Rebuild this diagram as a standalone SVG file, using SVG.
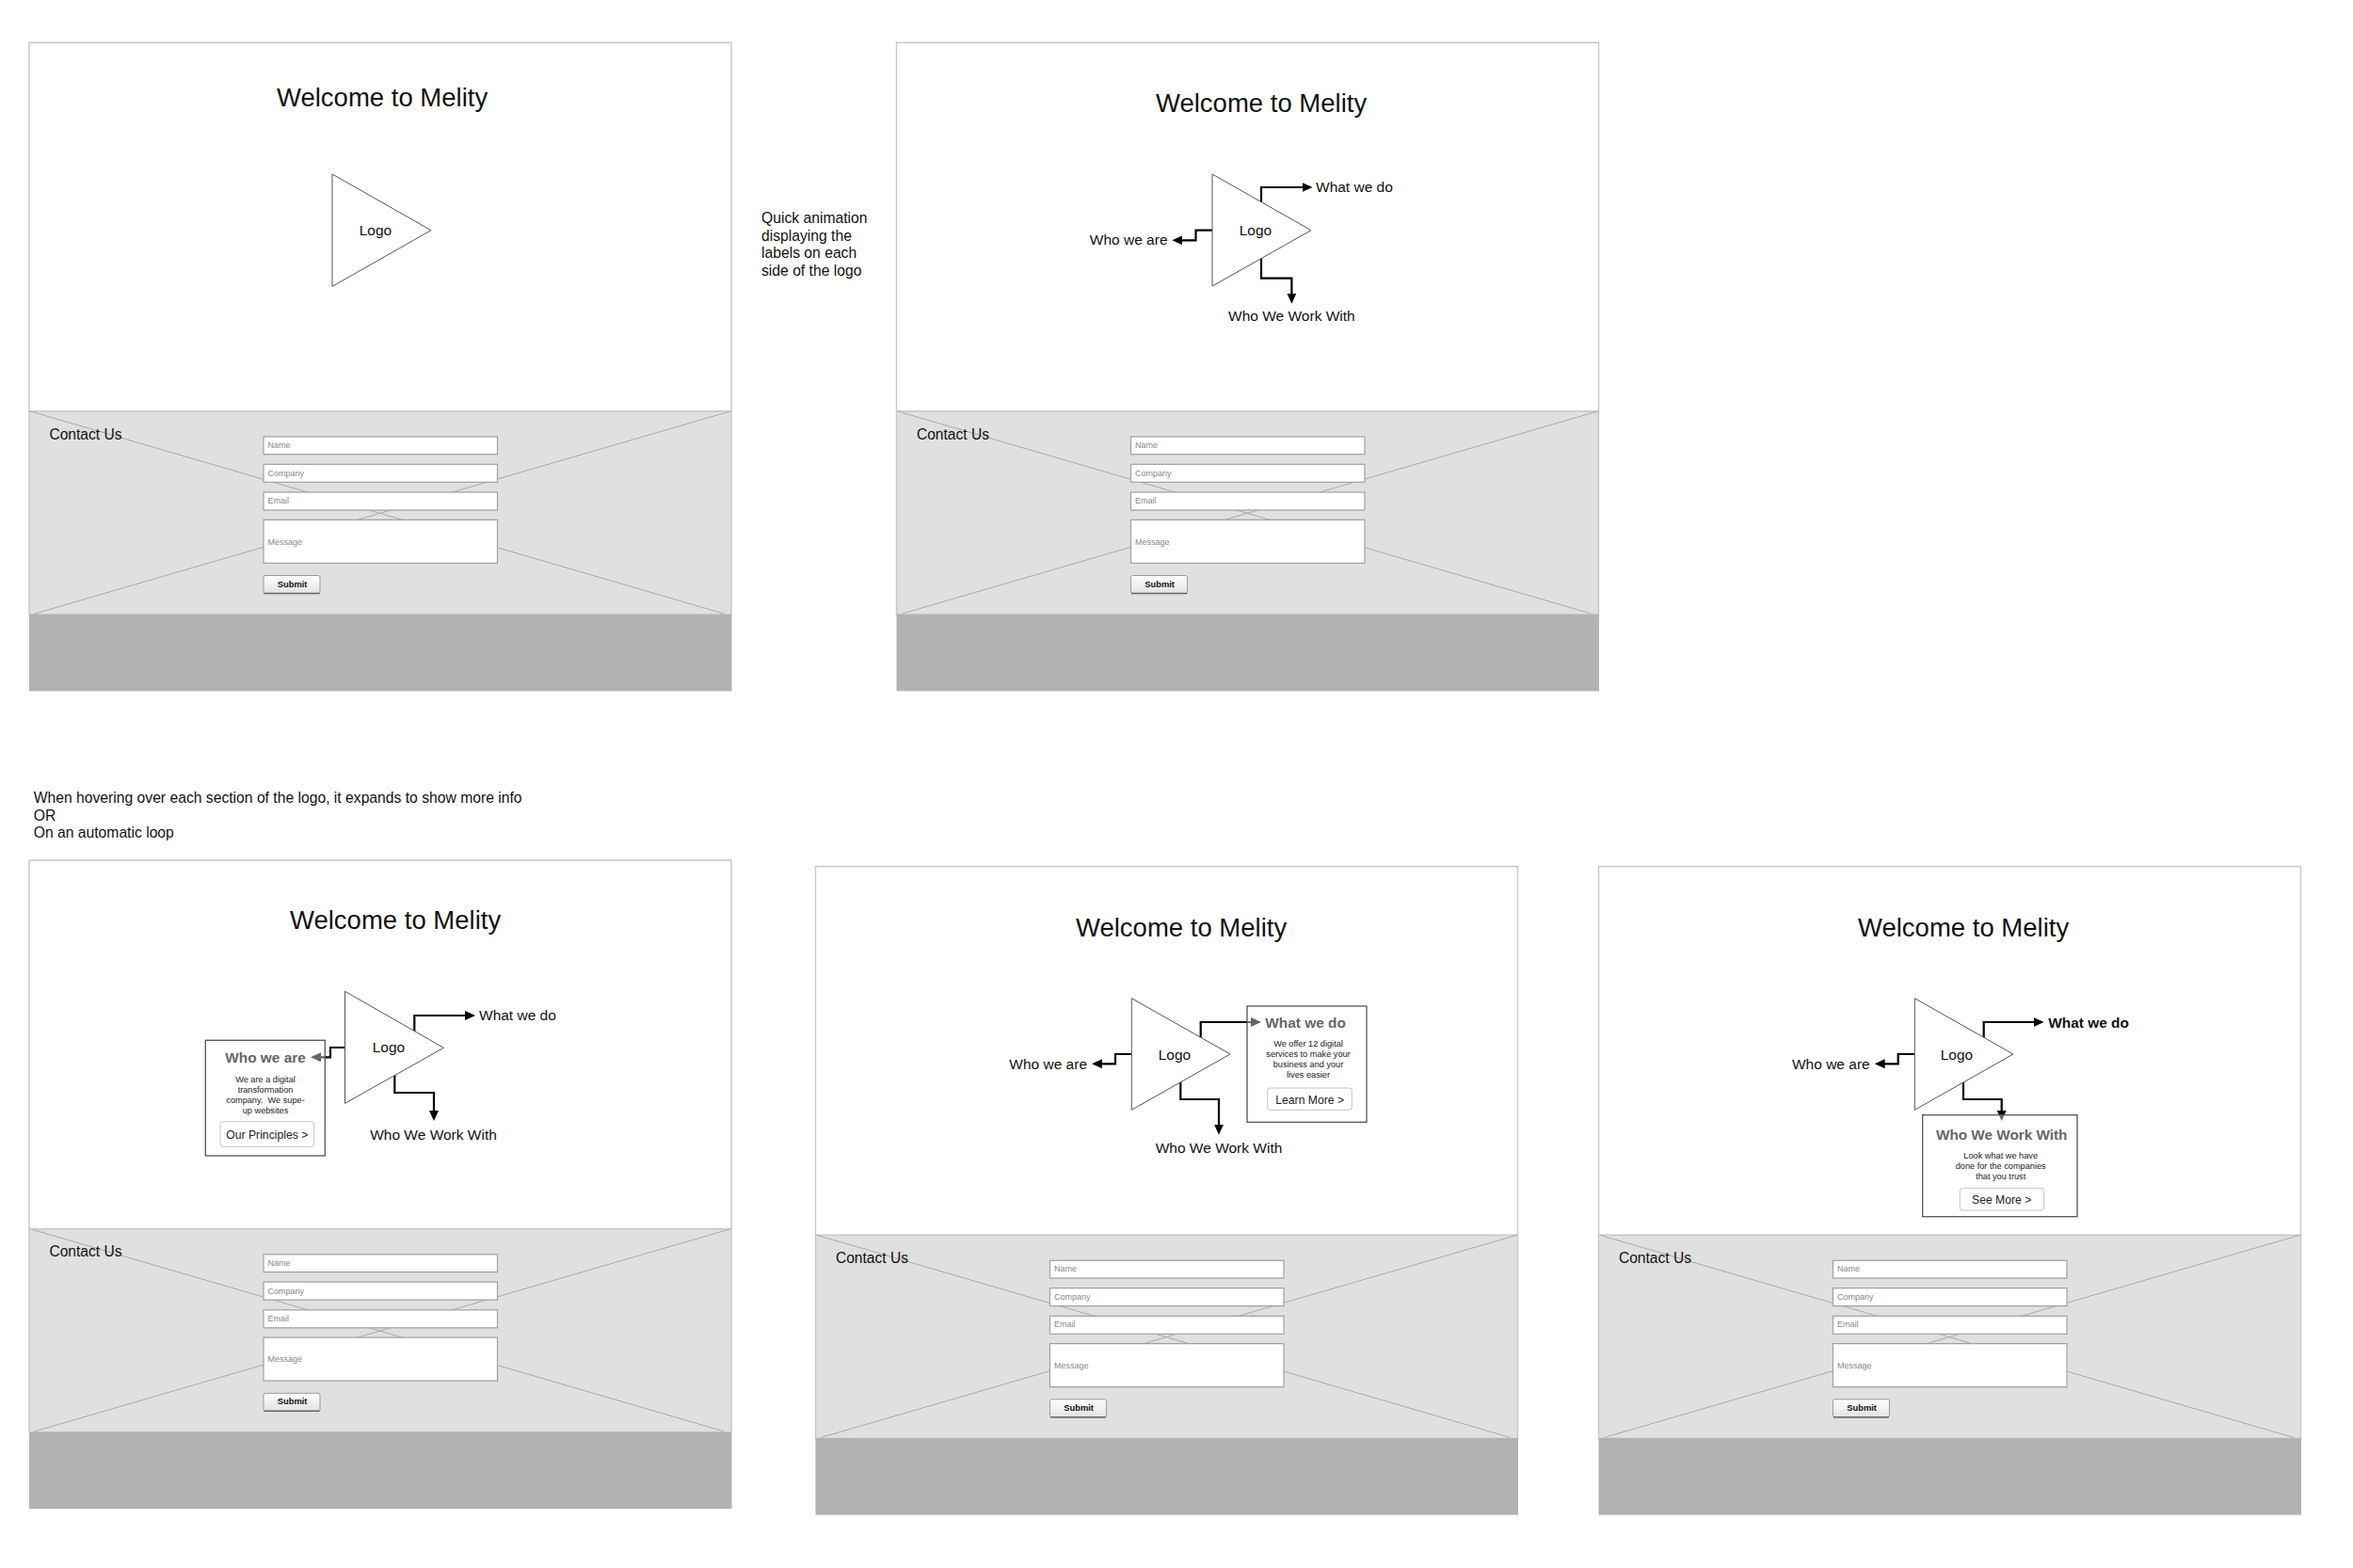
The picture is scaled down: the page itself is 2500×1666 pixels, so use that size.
<svg xmlns="http://www.w3.org/2000/svg" width="2500" height="1666" viewBox="0 0 2500 1666">
<style>
text{font-family:"Liberation Sans",Arial,sans-serif;fill:#111}
.page{fill:#fff;stroke:#c9c9c9;stroke-width:1.5}
.band{fill:#e0e0e0;stroke:#c9c9c9;stroke-width:1.5}
.foot{fill:#b2b2b2}
.x{stroke:#aaa;stroke-width:1;fill:none}
.field{fill:#fff;stroke:#a0a0a0;stroke-width:1.2}
.ph{font-size:9px;fill:#888}
.sub{fill:url(#btn);stroke:#999;stroke-width:1}
.subl{stroke:#666;stroke-width:1.4;fill:none}
.subt{font-size:9.4px;font-weight:bold;text-anchor:middle}
.title{font-size:27.5px}
.contact{font-size:15.6px}
.lbl{font-size:15.5px}
.mid{text-anchor:middle}
.end{text-anchor:end}
.note{font-size:15.7px}
.tri{fill:#fff;stroke:#555;stroke-width:1}
.conn{fill:none;stroke:#000;stroke-width:2.2;marker-end:url(#head)}
.box{fill:#fff;fill-opacity:.4;stroke:#555;stroke-width:1.3}
.bh{font-size:15.4px;font-weight:bold;fill:#666}
.bh2{font-size:15.4px;font-weight:bold;fill:#111}
.body{font-size:9.2px;text-anchor:middle;fill:#222}
.cta{fill:#fff;stroke:#c4c4c4;stroke-width:1}
.ctat{font-size:12.2px;text-anchor:middle;fill:#222}
</style>
<defs>
<linearGradient id="btn" x1="0" y1="0" x2="0" y2="1"><stop offset="0" stop-color="#fff"/><stop offset="1" stop-color="#e2e2e2"/></linearGradient>
<marker id="head" markerUnits="userSpaceOnUse" markerWidth="12" markerHeight="11" refX="7" refY="5" orient="auto"><path d="M0 0L11 5L0 10Z" fill="#000"/></marker>
</defs>

<g id="frame-1">
<rect class="page" x="31" y="45.3" width="746" height="392"/>
<rect class="band" x="31" y="437" width="746" height="216"/>
<path class="x" d="M32.4 437L769 652M776 437L37 652"/>
<rect class="foot" x="31" y="652.7" width="746.5" height="81.6"/>
<text class="contact" x="52.4" y="466.7">Contact Us</text>
<rect class="field" x="280" y="464" width="248.5" height="18.7"/><text class="ph" x="284.5" y="476">Name</text>
<rect class="field" x="280" y="493.3" width="248.5" height="19"/><text class="ph" x="284.5" y="506">Company</text>
<rect class="field" x="280" y="523" width="248.5" height="19"/><text class="ph" x="284.5" y="535">Email</text>
<rect class="field" x="280" y="552.3" width="248.5" height="46"/><text class="ph" x="284.5" y="578.7">Message</text>
<rect class="sub" x="280" y="611.5" width="60" height="19" rx="2"/><path class="subl" d="M280.5 630.5H339.5"/><text class="subt" x="310.6" y="623.7">Submit</text>
</g>

<g id="frame-2" transform="translate(921.5 0)">
<rect class="page" x="31" y="45.3" width="746" height="392"/>
<rect class="band" x="31" y="437" width="746" height="216"/>
<path class="x" d="M32.4 437L769 652M776 437L37 652"/>
<rect class="foot" x="31" y="652.7" width="746.5" height="81.6"/>
<text class="contact" x="52.4" y="466.7">Contact Us</text>
<rect class="field" x="280" y="464" width="248.5" height="18.7"/><text class="ph" x="284.5" y="476">Name</text>
<rect class="field" x="280" y="493.3" width="248.5" height="19"/><text class="ph" x="284.5" y="506">Company</text>
<rect class="field" x="280" y="523" width="248.5" height="19"/><text class="ph" x="284.5" y="535">Email</text>
<rect class="field" x="280" y="552.3" width="248.5" height="46"/><text class="ph" x="284.5" y="578.7">Message</text>
<rect class="sub" x="280" y="611.5" width="60" height="19" rx="2"/><path class="subl" d="M280.5 630.5H339.5"/><text class="subt" x="310.6" y="623.7">Submit</text>
</g>

<g id="frame-3" transform="translate(0 868.8)">
<rect class="page" x="31" y="45.3" width="746" height="392"/>
<rect class="band" x="31" y="437" width="746" height="216"/>
<path class="x" d="M32.4 437L769 652M776 437L37 652"/>
<rect class="foot" x="31" y="652.7" width="746.5" height="81.6"/>
<text class="contact" x="52.4" y="466.7">Contact Us</text>
<rect class="field" x="280" y="464" width="248.5" height="18.7"/><text class="ph" x="284.5" y="476">Name</text>
<rect class="field" x="280" y="493.3" width="248.5" height="19"/><text class="ph" x="284.5" y="506">Company</text>
<rect class="field" x="280" y="523" width="248.5" height="19"/><text class="ph" x="284.5" y="535">Email</text>
<rect class="field" x="280" y="552.3" width="248.5" height="46"/><text class="ph" x="284.5" y="578.7">Message</text>
<rect class="sub" x="280" y="611.5" width="60" height="19" rx="2"/><path class="subl" d="M280.5 630.5H339.5"/><text class="subt" x="310.6" y="623.7">Submit</text>
</g>

<g id="frame-4" transform="translate(835.5 875.3)">
<rect class="page" x="31" y="45.3" width="746" height="392"/>
<rect class="band" x="31" y="437" width="746" height="216"/>
<path class="x" d="M32.4 437L769 652M776 437L37 652"/>
<rect class="foot" x="31" y="652.7" width="746.5" height="81.6"/>
<text class="contact" x="52.4" y="466.7">Contact Us</text>
<rect class="field" x="280" y="464" width="248.5" height="18.7"/><text class="ph" x="284.5" y="476">Name</text>
<rect class="field" x="280" y="493.3" width="248.5" height="19"/><text class="ph" x="284.5" y="506">Company</text>
<rect class="field" x="280" y="523" width="248.5" height="19"/><text class="ph" x="284.5" y="535">Email</text>
<rect class="field" x="280" y="552.3" width="248.5" height="46"/><text class="ph" x="284.5" y="578.7">Message</text>
<rect class="sub" x="280" y="611.5" width="60" height="19" rx="2"/><path class="subl" d="M280.5 630.5H339.5"/><text class="subt" x="310.6" y="623.7">Submit</text>
</g>

<g id="frame-5" transform="translate(1667.5 875.3)">
<rect class="page" x="31" y="45.3" width="746" height="392"/>
<rect class="band" x="31" y="437" width="746" height="216"/>
<path class="x" d="M32.4 437L769 652M776 437L37 652"/>
<rect class="foot" x="31" y="652.7" width="746.5" height="81.6"/>
<text class="contact" x="52.4" y="466.7">Contact Us</text>
<rect class="field" x="280" y="464" width="248.5" height="18.7"/><text class="ph" x="284.5" y="476">Name</text>
<rect class="field" x="280" y="493.3" width="248.5" height="19"/><text class="ph" x="284.5" y="506">Company</text>
<rect class="field" x="280" y="523" width="248.5" height="19"/><text class="ph" x="284.5" y="535">Email</text>
<rect class="field" x="280" y="552.3" width="248.5" height="46"/><text class="ph" x="284.5" y="578.7">Message</text>
<rect class="sub" x="280" y="611.5" width="60" height="19" rx="2"/><path class="subl" d="M280.5 630.5H339.5"/><text class="subt" x="310.6" y="623.7">Submit</text>
</g>

<g id="titles">
<text class="title" x="294" y="113">Welcome to Melity</text>
<text class="title" x="1228" y="118.5">Welcome to Melity</text>
<text class="title" x="308" y="987">Welcome to Melity</text>
<text class="title" x="1143" y="994.5">Welcome to Melity</text>
<text class="title" x="1974" y="994.5">Welcome to Melity</text>
</g>

<g id="notes">
<text class="note" x="809" y="237.3">Quick animation</text>
<text class="note" x="809" y="256">displaying the</text>
<text class="note" x="809" y="274">labels on each</text>
<text class="note" x="809" y="292.7">side of the logo</text>
<text class="note" x="35.7" y="852.7">When hovering over each section of the logo, it expands to show more info</text>
<text class="note" x="35.7" y="871.7">OR</text>
<text class="note" x="35.7" y="890">On an automatic loop</text>
</g>

<g id="connectors">
<path class="conn" d="M1340 215V199H1390.6"/>
<path class="conn" d="M1288 244.7H1270.5V255.3H1249.3"/>
<path class="conn" d="M1340 273.3V295.7H1372.4V318.7"/>
<path class="conn" d="M440.3 1096V1079H501"/>
<path class="conn" d="M367 1113H351V1123.3H334"/>
<path class="conn" d="M419.3 1142V1161H461V1187"/>
<path class="conn" d="M1275.7 1102.7V1086H1336"/>
<path class="conn" d="M1202.3 1120H1185V1130.3H1164"/>
<path class="conn" d="M1254.3 1149.3V1168H1295V1201.7"/>
<path class="conn" d="M2107.7 1102.7V1086H2167.7"/>
<path class="conn" d="M2034.3 1120H2016.7V1130.3H1995.7"/>
<path class="conn" d="M2086 1149.3V1168H2126.7V1187"/>
</g>

<g id="logo-1"><polygon class="tri" points="353,185 458,244.7 353,304.3"/><text class="lbl mid" x="399" y="250">Logo</text></g>
<g id="logo-2"><polygon class="tri" points="1288,185 1393,244.7 1288,304"/><text class="lbl mid" x="1334" y="250">Logo</text></g>
<g id="logo-3"><polygon class="tri" points="366.5,1053.3 471.4,1113.3 366.5,1172.3"/><text class="lbl mid" x="413" y="1118.3">Logo</text></g>
<g id="logo-4"><polygon class="tri" points="1202.3,1060.7 1307,1120 1202.3,1179.3"/><text class="lbl mid" x="1248" y="1126">Logo</text></g>
<g id="logo-5"><polygon class="tri" points="2034.3,1060.7 2139,1120 2034.3,1179.3"/><text class="lbl mid" x="2079" y="1126">Logo</text></g>

<g id="labels-2">
<text class="lbl" x="1398" y="204">What we do</text>
<text class="lbl end" x="1240.5" y="260">Who we are</text>
<text class="lbl mid" x="1372.4" y="341.3">Who We Work With</text>
</g>
<g id="labels-3">
<text class="lbl" x="509" y="1084">What we do</text>
<text class="lbl mid" x="460.5" y="1210.7">Who We Work With</text>
</g>
<g id="labels-4">
<text class="lbl end" x="1155" y="1136">Who we are</text>
<text class="lbl mid" x="1295" y="1225">Who We Work With</text>
</g>
<g id="labels-5">
<text class="lbl end" x="1986.7" y="1136">Who we are</text>
<text class="bh2" x="2176.3" y="1091.7">What we do</text>
</g>

<g id="card-who-we-are">
<rect class="box" x="218.3" y="1105.3" width="127" height="122.7"/>
<text class="bh mid" x="282" y="1129.3">Who we are</text>
<text class="body" x="282" y="1150">We are a digital</text>
<text class="body" x="282" y="1161">transformation</text>
<text class="body" x="282" y="1172">company.&#160; We supe-</text>
<text class="body" x="282" y="1183">up websites</text>
<rect class="cta" x="234" y="1191.7" width="99.7" height="26.6" rx="3"/>
<text class="ctat" x="283.8" y="1210">Our Principles &gt;</text>
</g>
<g id="card-what-we-do">
<rect class="box" x="1325" y="1069" width="127" height="123.3"/>
<text class="bh" x="1344.3" y="1091.7">What we do</text>
<text class="body" x="1390" y="1112">We offer 12 digital</text>
<text class="body" x="1390" y="1123">services to make your</text>
<text class="body" x="1390" y="1134">business and your</text>
<text class="body" x="1390" y="1145">lives easier</text>
<rect class="cta" x="1346.7" y="1156" width="89.6" height="23.3" rx="3"/>
<text class="ctat" x="1391.7" y="1172.7">Learn More &gt;</text>
</g>
<g id="card-who-we-work-with">
<rect class="box" x="2042.7" y="1184.7" width="164.3" height="108"/>
<text class="bh mid" style="font-size:15.3px" x="2126.7" y="1210.7">Who We Work With</text>
<text class="body" x="2125.7" y="1231">Look what we have</text>
<text class="body" x="2125.7" y="1242">done for the companies</text>
<text class="body" x="2125.7" y="1253">that you trust</text>
<rect class="cta" x="2082.3" y="1262.3" width="89.4" height="23.7" rx="3"/>
<text class="ctat" x="2126.7" y="1278.7">See More &gt;</text>
</g>
</svg>
